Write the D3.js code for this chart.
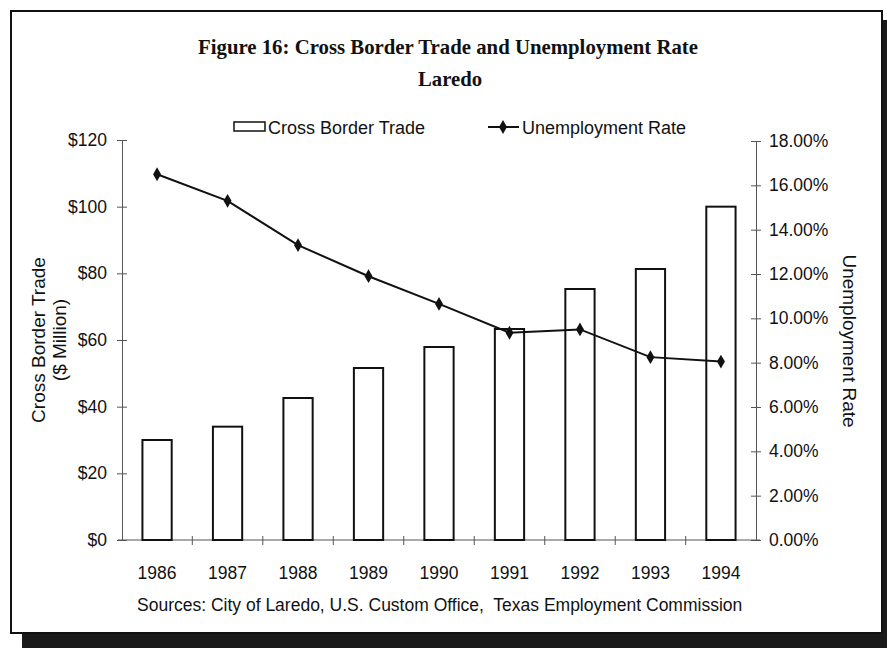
<!DOCTYPE html>
<html>
<head>
<meta charset="utf-8">
<script src="https://cdn.jsdelivr.net/npm/d3@7"></script>
<style>
  body { margin: 0; background: #fff; }
  svg text { font-family: Arial, "Liberation Sans", sans-serif; fill: #111; }
</style>
</head>
<body>
<svg id="chart" width="887" height="648"></svg>
<script>
// data
var years = ["1986","1987","1988","1989","1990","1991","1992","1993","1994"];
var trade = [30, 34, 42.6, 51.6, 57.9, 63.3, 75.3, 81.3, 100];           // $ million
var unemp = [16.5, 15.3, 13.3, 11.9, 10.65, 9.35, 9.5, 8.25, 8.05];      // percent
var leftTicks = [0, 20, 40, 60, 80, 100, 120];
var rightTicks = [0, 2, 4, 6, 8, 10, 12, 14, 16, 18];

var svg = d3.select("#chart");

// page frame with the dark shadow at bottom / right
svg.append("rect").attr("x", 22).attr("y", 20).attr("width", 865).attr("height", 628).attr("fill", "#1a1a1a");
svg.append("rect").attr("x", 11).attr("y", 11).attr("width", 871).attr("height", 622)
  .attr("fill", "#fff").attr("stroke", "#111").attr("stroke-width", 2);

var x = d3.scaleBand().domain(years).range([122, 756]).paddingInner(0.585).paddingOuter(0.29);
var yL = d3.scaleLinear().domain([0, 120]).range([540, 140]);
var yR = d3.scaleLinear().domain([0, 18]).range([540, 141]);

// title
svg.append("text").attr("x", 448).attr("y", 54).attr("text-anchor", "middle")
  .style("font-family", "'Liberation Serif', 'Times New Roman', serif").style("font-weight", "bold")
  .style("font-size", "21px").attr("textLength", 500).attr("lengthAdjust", "spacingAndGlyphs")
  .text("Figure 16: Cross Border Trade and Unemployment Rate");
svg.append("text").attr("x", 450).attr("y", 86).attr("text-anchor", "middle")
  .style("font-family", "'Liberation Serif', 'Times New Roman', serif").style("font-weight", "bold")
  .style("font-size", "21px").attr("textLength", 64).attr("lengthAdjust", "spacingAndGlyphs")
  .text("Laredo");

// axes
var axL = svg.append("g").attr("transform", "translate(122,0)")
  .call(d3.axisLeft(yL).tickValues(leftTicks).tickFormat(d => "$" + d).tickSizeInner(5).tickSizeOuter(0));
var axR = svg.append("g").attr("transform", "translate(756,0)")
  .call(d3.axisRight(yR).tickValues(rightTicks).tickFormat(d => d.toFixed(2) + "%").tickSizeInner(5).tickSizeOuter(0));
[axL, axR].forEach(function(a){
  a.select(".domain").attr("stroke", "#555");
  a.selectAll(".tick line").attr("stroke", "#555").attr("x1", -5).attr("x2", 5);
  a.selectAll(".tick text").style("font-size", "17.5px").attr("fill", "#111");
});
axL.selectAll(".tick text").attr("x", -15);
axR.selectAll(".tick text").attr("x", 13);

// x axis: ticks sit between the categories
var step = x.step();
var axB = svg.append("g").attr("transform", "translate(0,540)");
axB.append("line").attr("x1", 118).attr("x2", 760).attr("stroke", "#555");
axB.selectAll(".xt").data(years.slice(1)).enter().append("line")
  .attr("x1", d => x(d) - x.paddingInner() * step / 2)
  .attr("x2", d => x(d) - x.paddingInner() * step / 2)
  .attr("y1", -4).attr("y2", 5).attr("stroke", "#555");
axB.selectAll(".xl").data(years).enter().append("text")
  .attr("x", d => x(d) + x.bandwidth() / 2).attr("y", 39)
  .attr("text-anchor", "middle").style("font-size", "17.5px").text(d => d);

// bars
svg.selectAll(".bar").data(years).enter().append("rect")
  .attr("x", d => x(d)).attr("width", x.bandwidth())
  .attr("y", (d, i) => yL(trade[i])).attr("height", (d, i) => yL(0) - yL(trade[i]))
  .attr("fill", "#fff").attr("stroke", "#111").attr("stroke-width", 2);

// unemployment line
var line = d3.line().x((d, i) => x(years[i]) + x.bandwidth() / 2).y(d => yR(d));
svg.append("path").datum(unemp).attr("d", line)
  .attr("fill", "none").attr("stroke", "#111").attr("stroke-width", 2);
var diamond = d3.symbol().type(d3.symbolDiamond).size(55);
svg.selectAll(".pt").data(unemp).enter().append("path")
  .attr("d", diamond)
  .attr("transform", (d, i) => "translate(" + (x(years[i]) + x.bandwidth() / 2) + "," + yR(d) + ")")
  .attr("fill", "#111");

// axis titles
svg.append("text").attr("transform", "translate(45,340) rotate(-90)").attr("text-anchor", "middle")
  .style("font-size", "19px").text("Cross Border Trade");
svg.append("text").attr("transform", "translate(66,340) rotate(-90)").attr("text-anchor", "middle")
  .style("font-size", "19px").text("($ Million)");
svg.append("text").attr("transform", "translate(843,341) rotate(90)").attr("text-anchor", "middle")
  .style("font-size", "19px").text("Unemployment Rate");

// legend
var lg = svg.append("g");
lg.append("rect").attr("x", 234).attr("y", 122).attr("width", 31).attr("height", 9)
  .attr("fill", "#fff").attr("stroke", "#111").attr("stroke-width", 1.5);
lg.append("text").attr("x", 268).attr("y", 134).style("font-size", "18px").text("Cross Border Trade");
lg.append("line").attr("x1", 488).attr("x2", 519).attr("y1", 127).attr("y2", 127)
  .attr("stroke", "#111").attr("stroke-width", 2);
lg.append("path").attr("d", diamond).attr("transform", "translate(503,127)").attr("fill", "#111");
lg.append("text").attr("x", 522).attr("y", 134).style("font-size", "18px").text("Unemployment Rate");

// source note
svg.append("text").attr("x", 137).attr("y", 611).style("font-size", "17.5px").style("white-space", "pre")
  .text("Sources: City of Laredo, U.S. Custom Office,  Texas Employment Commission");
</script>
</body>
</html>
